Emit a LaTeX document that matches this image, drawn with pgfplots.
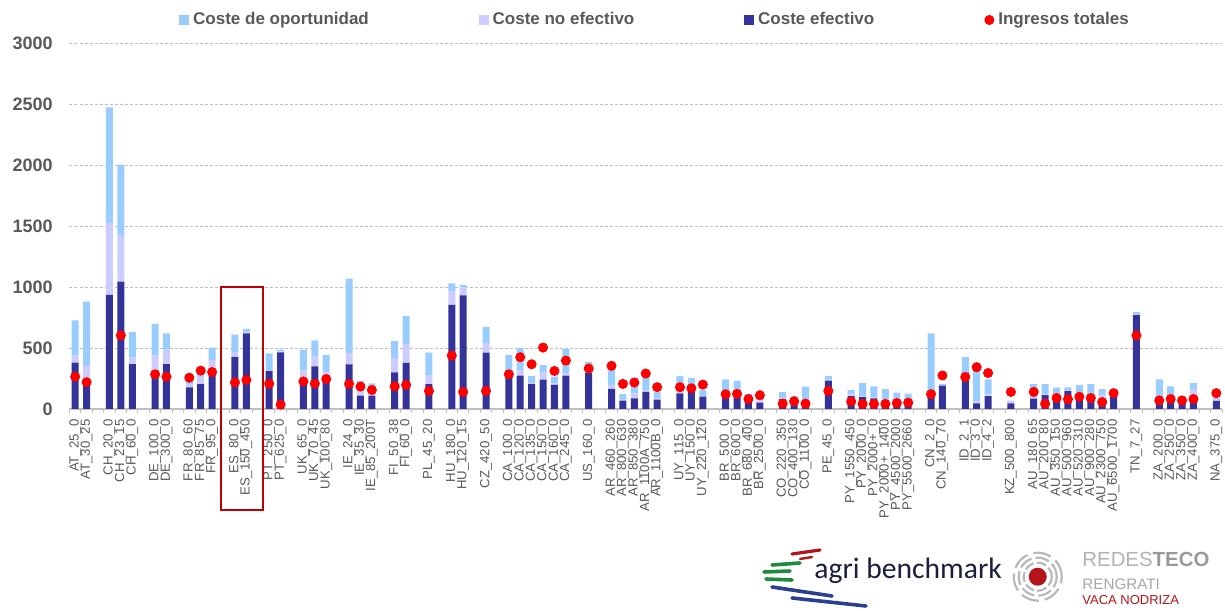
\documentclass[border=0pt]{standalone}
\usepackage{fontspec}
\setmainfont{Liberation Sans}
\newfontfamily\carl{Carlito}
\usepackage{pgfplots}
\usepackage{pgfplotstable}
\pgfplotsset{compat=1.18}
\definecolor{cOpp}{HTML}{99CCFF}
\definecolor{cNo}{HTML}{CCCCFF}
\definecolor{cEff}{HTML}{333399}
\definecolor{cIng}{HTML}{FF0000}
\definecolor{txt}{HTML}{595959}
\definecolor{gridc}{HTML}{BFBFBF}
\definecolor{boxc}{HTML}{C00000}
\definecolor{navy}{HTML}{1B1F3B}
\definecolor{logored}{HTML}{B3151B}
\definecolor{lgreen}{HTML}{1E8A3C}
\definecolor{lblue}{HTML}{2A3F8F}

\pgfplotstableread{
x eff noeff opp ing
0 380 58 289 265
1 200 154 527 220
3 937 590 948 nan
4 1044 384 577 604
5 369 52 210 nan
7 290 148 261 285
8 369 119 132 265
10 177 23 35 257
11 205 55 50 315
12 275 127 101 303
14 427 41 143 218
15 621 7 30 238
17 311 7 138 207
18 465 7 15 36
20 250 67 170 226
21 350 80 133 208
22 255 49 141 246
24 367 91 611 206
25 110 60 63 184
26 110 70 31 156
28 301 118 140 186
29 378 156 228 197
31 205 69 189 148
33 855 107 68 438
34 932 68 19 140
36 463 77 134 148
38 280 10 154 285
39 274 47 180 425
40 205 7 59 367
41 241 60 58 504
42 197 13 56 312
43 274 22 197 397
45 294 6 87 332
47 165 27 157 354
48 69 13 39 206
49 88 41 129 217
50 140 10 116 291
51 77 8 55 179
53 129 14 129 179
54 143 7 103 170
55 102 5 50 200
57 110 8 126 121
58 93 7 133 124
59 60 20 41 82
60 52 18 37 113
62 82 6 52 44
63 33 5 69 63
64 69 13 102 44
66 233 7 32 148
68 105 14 36 61
69 97 6 110 42
70 88 6 91 42
71 72 6 85 42
72 64 6 65 49
73 80 6 41 52
75 99 16 505 122
76 191 6 7 275
78 298 7 123 262
79 47 17 261 343
80 105 14 124 295
82 47 17 5 140
84 86 14 104 140
85 113 7 84 43
86 99 7 69 90
87 146 9 22 80
88 110 7 80 100
89 99 7 98 90
90 86 24 54 57
91 105 7 13 130
93 771 8 16 603
95 99 7 137 70
96 105 7 74 82
97 44 6 50 70
98 110 56 47 82
100 66 14 14 130
}\data

\pgfplotsset{commonax/.style={
  scale only axis, width=576.25pt, height=182.85pt,
  at={(34.75pt,100.5pt)}, anchor=south west,
  xmin=-0.5, xmax=100.5, ymin=0, ymax=3000}}

\begin{document}
\begin{tikzpicture}
\useasboundingbox (0pt,0pt) rectangle (612.5pt,305pt);
\begin{axis}[commonax, ybar stacked, bar width=3.5pt, clip=false,
  axis x line*=bottom, axis y line*=left,
  y axis line style={draw=none},
  x axis line style={draw=gridc, line width=0.6pt},
  ytick={0,500,...,3000}, ymajorgrids,
  grid style={draw=gridc, dash pattern=on 1.5pt off 1pt, line width=0.5pt},
  xtick={0,1,3,4,5,7,8,10,11,12,14,15,17,18,20,21,22,24,25,26,28,29,31,33,34,36,38,39,40,41,42,43,45,47,48,49,50,51,53,54,55,57,58,59,60,62,63,64,66,68,69,70,71,72,73,75,76,78,79,80,82,84,85,86,87,88,89,90,91,93,95,96,97,98,100},
  xticklabels={AT\_25\_0,AT\_30\_25,CH\_20\_0,CH\_23\_15,CH\_60\_0,DE\_100\_0,DE\_300\_0,FR\_80\_60,FR\_85\_75,FR\_95\_0,ES\_80\_0,ES\_150\_450,PT\_250\_0,PT\_625\_0,UK\_65\_0,UK\_70\_45,UK\_100\_80,IE\_24\_0,IE\_35\_30,IE\_85\_200T,FI\_50\_38,FI\_60\_0,PL\_45\_20,HU\_180\_0,HU\_120\_15,CZ\_420\_50,CA\_100\_0,CA\_120\_0,CA\_135\_0,CA\_150\_0,CA\_160\_0,CA\_245\_0,US\_160\_0,AR\_460\_260,AR\_800\_630,AR\_850\_380,AR\_1100A\_750,AR\_1100B\_0,UY\_115\_0,UY\_150\_0,UY\_220\_120,BR\_500\_0,BR\_600\_0,BR\_680\_400,BR\_2500\_0,CO\_220\_350,CO\_400\_130,CO\_1100\_0,PE\_45\_0,PY\_1550\_450,PY\_2000\_0,PY\_2000+\_0,PY\_2000+\_1400,PY\_4500\_2000,PY\_5500\_2660,CN\_2\_0,CN\_140\_70,ID\_2\_1,ID\_3\_0,ID\_4\_2,KZ\_500\_800,AU\_180\_65,AU\_200\_80,AU\_350\_150,AU\_500\_960,AU\_520\_310,AU\_900\_280,AU\_2300\_750,AU\_6500\_1700,TN\_7\_27,ZA\_200\_0,ZA\_250\_0,ZA\_350\_0,ZA\_400\_0,NA\_375\_0},
  minor xtick={-0.5,0.5,...,100.5},
  tick align=outside, major tick length=0pt, minor tick length=2pt,
  minor tick style={draw=gridc, line width=0.5pt},
  xticklabel style={rotate=90, anchor=east, inner sep=0pt, font=\fontsize{6.6}{7}\selectfont, text=txt},
  xticklabel shift=5pt,
  yticklabel style={inner sep=0pt, xshift=-8.25pt, font=\bfseries\fontsize{9}{10}\selectfont, text=txt},
  /pgf/number format/assume math mode=true,
  /pgf/number format/1000 sep={},
  legend columns=4,
  legend style={at={(0,1)}, anchor=west, xshift=54.75pt, yshift=11.65pt,
    draw=none, fill=none, inner sep=0pt,
    font=\bfseries\fontsize{8.5}{10}\selectfont, text=txt,
    /tikz/every even column/.append style={column sep=53pt}},
]
\addlegendimage{legend image code/.code={\fill[cOpp] (0pt,-2.25pt) rectangle (4.5pt,2.25pt);}}
\addlegendentry{Coste de oportunidad}
\addlegendimage{legend image code/.code={\fill[cNo] (0pt,-2.25pt) rectangle (4.5pt,2.25pt);}}
\addlegendentry{Coste no efectivo}
\addlegendimage{legend image code/.code={\fill[cEff] (0pt,-2.25pt) rectangle (4.5pt,2.25pt);}}
\addlegendentry{Coste efectivo}
\addlegendimage{legend image code/.code={\fill[cIng] (2.25pt,0pt) circle (2.3pt);}}
\addlegendentry{Ingresos totales}
\addplot[fill=cEff, draw=none, forget plot] table[x=x, y=eff] {\data};
\addplot[fill=cNo, draw=none, forget plot] table[x=x, y=noeff] {\data};
\addplot[fill=cOpp, draw=none, forget plot] table[x=x, y=opp] {\data};
\draw[boxc, line width=1pt] (axis cs:12.79,1000) rectangle (axis cs:16.47,-828);
\end{axis}
\begin{axis}[commonax, hide axis]
\addplot[only marks, mark=*, mark size=2.3pt, mark options={draw=cIng, fill=cIng}, unbounded coords=discard] table[x=x, y=ing] {\data};
\end{axis}
\begin{scope}[x=0.5pt, y=0.5pt]
  % stripes logo
  \draw[logored, line width=1.6pt, line cap=round] (792,56) -- (820,60);
  \draw[logored, line width=1.2pt, line cap=round] (800,51) -- (812,53);
  \draw[lgreen, line width=1.8pt, line cap=round] (772,45) -- (800,47);
  \draw[lgreen, line width=1.8pt, line cap=round] (764,38) -- (790,39);
  \draw[lgreen, line width=1.8pt, line cap=round] (766,31) -- (792,30);
  \draw[lblue, line width=1.8pt, line cap=round] (772,23) -- (832,14);
  \draw[lblue, line width=1.8pt, line cap=round] (792,12) -- (866,4);
  \node[anchor=base west, inner sep=0pt, font=\carl\fontsize{14.8}{17}\selectfont, text=navy] at (814,32) {agri benchmark};
  % circle logo
  \fill[logored] (1037.7,33.3) circle (4.5pt);
  \draw[gray!55, line width=1.1pt, dash pattern=on 5pt off 1.5pt] (1037.7,33.3) circle (7pt);
  \draw[gray!55, line width=1.1pt, dash pattern=on 7pt off 2pt] (1037.7,33.3) circle (9.5pt);
  \draw[gray!55, line width=1.1pt, dash pattern=on 9pt off 3pt] (1037.7,33.3) circle (12pt);
  \node[anchor=base west, inner sep=0pt, font=\fontsize{10.2}{12}\selectfont] at (1082,43.3) {\textcolor{gray!60}{REDES}\textcolor{gray!80}{\bfseries TECO}};
  \node[anchor=base west, inner sep=0pt, font=\fontsize{7.6}{9}\selectfont, text=gray!70] at (1082,20.7) {RENGRATI};
  \node[anchor=base west, inner sep=0pt, font=\fontsize{6.5}{8}\selectfont, text=logored] at (1082,5) {VACA NODRIZA};
\end{scope}
\end{tikzpicture}
\end{document}
